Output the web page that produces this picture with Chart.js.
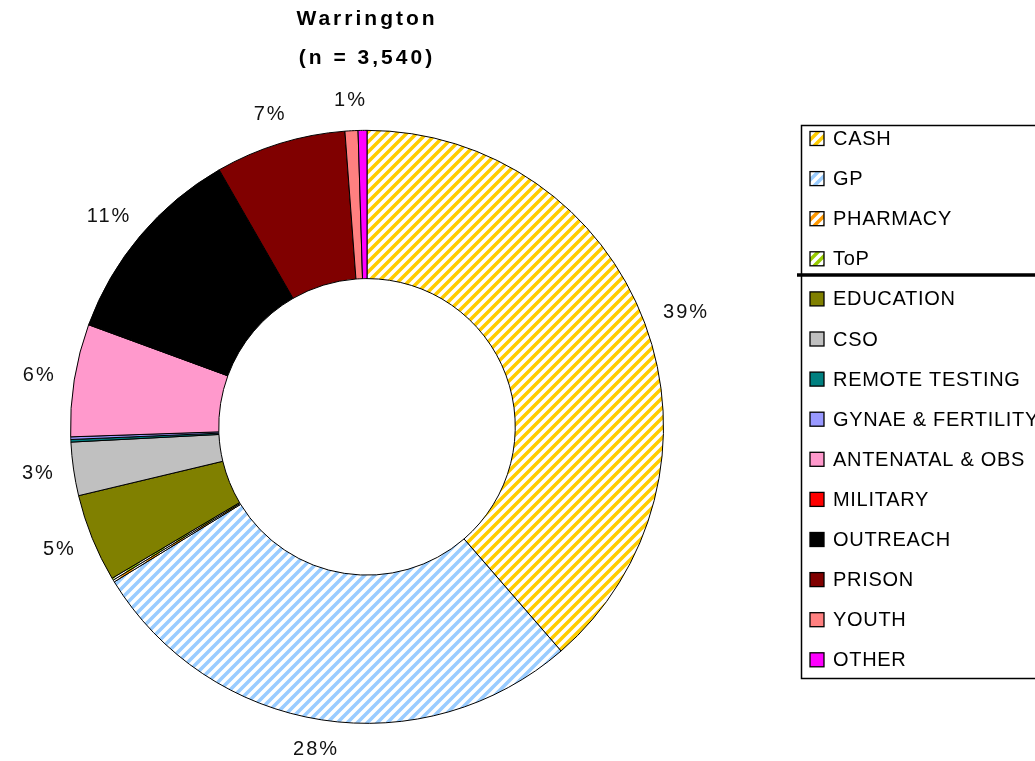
<!DOCTYPE html>
<html>
<head>
<meta charset="utf-8">
<script src="https://cdn.jsdelivr.net/npm/chart.js@4.4.1/dist/chart.umd.min.js"></script>
<style>
  html, body { margin: 0; padding: 0; background: #fff; overflow: hidden; }
  #wrap { width: 1035px; height: 761px; }
</style>
</head>
<body>
<div id="wrap"><canvas id="chart" width="1035" height="761"></canvas></div>
<script>
  const categories = ['CASH', 'GP', 'PHARMACY', 'ToP', 'EDUCATION', 'CSO', 'REMOTE TESTING',
    'GYNAE & FERTILITY', 'ANTENATAL & OBS', 'MILITARY', 'OUTREACH', 'PRISON', 'YOUTH', 'OTHER'];
  // tests per setting, n = 3,540
  const counts = [1368, 977, 4, 4, 170, 103, 5, 5, 217, 1, 392, 252, 25, 17];
  const titleLines = ['Warrington', '(n = 3,540)'];

  const colors = ['#FFCC00', '#99CCFF', '#FF9900', '#99CC00', '#808000', '#C0C0C0', '#008080',
    '#9999FF', '#FF99CC', '#FF0000', '#000000', '#800000', '#FF8080', '#FF00FF'];
  const hatched = [true, true, true, true];

  // diagonal stripes on white, like the old Excel fill
  function makeHatch(color) {
    const c = document.createElement('canvas');
    c.width = 10; c.height = 10;
    const x = c.getContext('2d');
    x.fillStyle = '#fff';
    x.fillRect(0, 0, 10, 10);
    x.strokeStyle = color;
    x.lineWidth = 3.5;
    x.beginPath();
    x.moveTo(-3, 13); x.lineTo(13, -3);
    x.moveTo(-3, 3); x.lineTo(3, -3);
    x.moveTo(7, 13); x.lineTo(13, 7);
    x.stroke();
    return x.createPattern(c, 'repeat');
  }

  const fills = colors.map((c, i) => hatched[i] ? makeHatch(c) : c);
  const total = counts.reduce((a, b) => a + b, 0);
  const labelFont = '20px "Liberation Sans", Arial, sans-serif';

  // wider tracking for the title, like the source picture
  const titleSpacing = {
    id: 'titleSpacing',
    beforeDraw(chart) { chart.ctx.letterSpacing = '3px'; },
    beforeDatasetsDraw(chart) { chart.ctx.letterSpacing = '0px'; }
  };

  // percentage labels outside the ring
  const pctLabels = {
    id: 'pctLabels',
    afterDatasetsDraw(chart) {
      const ctx = chart.ctx;
      const meta = chart.getDatasetMeta(0);
      ctx.save();
      ctx.font = labelFont;
      ctx.letterSpacing = '2px';
      ctx.fillStyle = '#111';
      ctx.textAlign = 'center';
      ctx.textBaseline = 'middle';
      meta.data.forEach((arc, i) => {
        const pct = Math.round(counts[i] / total * 100);
        if (!pct) return;
        const p = arc.getProps(['x', 'y', 'startAngle', 'endAngle', 'outerRadius'], true);
        const a = (p.startAngle + p.endAngle) / 2;
        const txt = pct + '%';
        const w = ctx.measureText(txt).width;
        const r = p.outerRadius + 20;
        const cx = p.x + Math.cos(a) * (r + w / 2) + 1;
        const cy = p.y + Math.sin(a) * (r + 10);
        ctx.fillText(txt, cx, cy);
      });
      ctx.restore();
    }
  };

  // boxed legend on the right, with the rule under the hatched group
  const legendBox = {
    id: 'legendBox',
    afterDraw(chart) {
      const ctx = chart.ctx;
      const ds = chart.data.datasets[0];
      ctx.save();
      ctx.letterSpacing = '0px';
      ctx.strokeStyle = '#000';
      ctx.lineWidth = 1.5;
      ctx.strokeRect(801.5, 125.5, 400, 553);

      ctx.font = labelFont;
      ctx.letterSpacing = '0.7px';
      ctx.textBaseline = 'middle';
      ctx.textAlign = 'left';
      chart.data.labels.forEach((lab, i) => {
        const y = 138.5 + i * 40.1;
        ctx.fillStyle = ds.backgroundColor[i];
        ctx.fillRect(810, y - 7, 14, 14);
        ctx.lineWidth = 1.3;
        ctx.strokeStyle = '#000';
        ctx.strokeRect(810, y - 7, 14, 14);
        ctx.fillStyle = '#000';
        ctx.fillText(lab, 833, y + 1);
      });

      ctx.lineWidth = 3.5;
      ctx.beginPath();
      ctx.moveTo(797, 275);
      ctx.lineTo(1035, 275);
      ctx.stroke();
      ctx.restore();
    }
  };

  new Chart(document.getElementById('chart'), {
    type: 'doughnut',
    data: {
      labels: categories,
      datasets: [{
        data: counts,
        backgroundColor: fills,
        borderColor: '#000',
        borderWidth: 1
      }]
    },
    options: {
      responsive: false,
      animation: false,
      cutout: '50%',
      layout: {
        padding: { left: 70, right: 371, top: 0, bottom: 37 }
      },
      plugins: {
        legend: { display: false },
        tooltip: { enabled: false },
        title: {
          display: true,
          text: titleLines,
          color: '#000',
          font: { family: '"Liberation Sans", Arial, sans-serif', size: 21, weight: 'bold', lineHeight: 1.85 },
          padding: { top: 0, bottom: 52 }
        }
      }
    },
    plugins: [titleSpacing, pctLabels, legendBox]
  });
</script>
</body>
</html>
